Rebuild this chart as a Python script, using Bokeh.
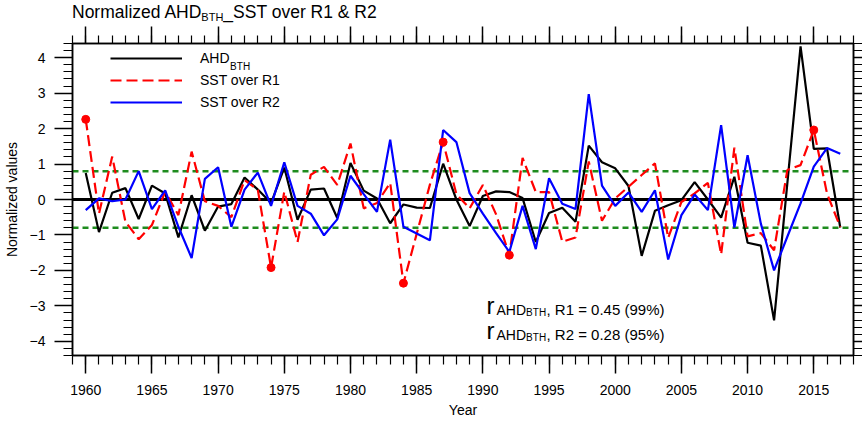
from bokeh.plotting import figure
from bokeh.layouts import column
from bokeh.models import (Range1d, LinearAxis, SingleIntervalTicker, Span, Label,
                          Legend, LegendItem, Div, CustomJSTickFormatter)
from bokeh.embed import file_html
from bokeh.resources import INLINE

# ---------------- data ----------------
years = list(range(1960, 2018))
ahd_bth = [0.75, -0.92, 0.19, 0.32, -0.55, 0.39, 0.17, -1.07, 0.12, -0.88,
           -0.20, -0.13, 0.62, 0.28, -0.10, 0.90, -0.57, 0.28, 0.31, -0.52,
           1.03, 0.25, 0.03, -0.67, -0.14, -0.23, -0.24, 1.01, 0.00, -0.75,
           0.10, 0.23, 0.21, 0.04, -1.20, -0.38, -0.23, -0.63, 1.52, 1.05,
           0.88, 0.38, -1.59, -0.32, -0.16, -0.02, 0.49, 0.00, -0.51, 0.64,
           -1.22, -1.30, -3.41, 0.45, 4.32, 1.43, 1.44, -0.79]
sst_r1 = [2.26, -0.40, 1.21, -0.63, -1.12, -0.72, 0.22, -0.44, 1.35, -0.05,
          -0.18, -0.50, 0.55, 0.27, -1.92, 0.22, -1.20, 0.70, 0.92, 0.41,
          1.58, -0.25, -0.10, 0.47, -2.36, -0.97, 0.42, 1.62, 0.15, -0.25,
          0.41, -0.42, -1.57, 1.17, 0.21, 0.21, -1.19, -1.07, 1.07, -0.60,
          0.03, 0.36, 0.69, 1.02, -1.08, -0.07, 0.17, 0.47, -1.55, 1.46,
          -1.04, -0.95, -1.43, 0.83, 0.97, 1.96, 0.17, -0.78]
sst_r2 = [-0.30, 0.03, -0.05, 0.00, 0.80, -0.27, 0.26, -0.77, -1.65, 0.58,
          0.91, -0.77, 0.28, 0.76, -0.18, 1.05, -0.18, -0.40, -1.01, -0.56,
          0.67, 0.15, -0.35, 1.69, -0.77, -0.96, -1.15, 1.96, 1.62, 0.18,
          -0.40, -0.95, -1.48, -0.18, -1.40, 0.60, -0.12, -0.27, 2.97, 0.39,
          -0.18, 0.20, -0.35, 0.26, -1.69, -0.44, 0.14, -0.30, 2.10, -0.79,
          1.25, -0.68, -2.00, -1.05, -0.11, 0.93, 1.45, 1.29]
marked_years = [1960, 1974, 1984, 1987, 1992, 2015]
marked_values = [sst_r1[years.index(y)] for y in marked_years]
threshold = 0.8
x_tick_interval = 5
y_tick_interval = 1

FONT = "Liberation Sans"
TITLE_H = 24

# frame (page px): left 72, right 853, top 43, bottom 355
p = figure(width=862, height=423 - TITLE_H, output_backend="svg",
           toolbar_location=None,
           x_range=Range1d(1959, 2018), y_range=Range1d(-4.4, 4.4),
           x_axis_type=None, y_axis_type=None,
           min_border_left=72, min_border_right=9, min_border_top=43 - TITLE_H,
           min_border_bottom=68, margin=0)
p.title.visible = False
p.outline_line_color = "black"
p.outline_line_width = 1.5
p.background_fill_color = "white"
p.border_fill_color = "white"

blank = CustomJSTickFormatter(code="return '';")


def make_axis(kind, labels, tick_out, minor_out):
    if kind == "x":
        ticker = SingleIntervalTicker(interval=x_tick_interval, num_minor_ticks=5)
    else:
        ticker = SingleIntervalTicker(interval=y_tick_interval, num_minor_ticks=5)
    ax = LinearAxis(ticker=ticker)
    ax.major_tick_in = 0
    ax.minor_tick_in = 0
    ax.major_tick_out = tick_out
    ax.minor_tick_out = minor_out
    ax.axis_line_color = "black"
    ax.axis_line_width = 1.5
    ax.major_tick_line_color = "black"
    ax.minor_tick_line_color = "black"
    ax.major_tick_line_width = 1.5
    ax.minor_tick_line_width = 1.2
    ax.major_label_text_font = FONT
    ax.major_label_text_color = "black"
    ax.major_label_text_font_size = "14px"
    ax.axis_label_text_color = "black"
    if not labels:
        ax.formatter = blank
        ax.major_label_standoff = 0
    return ax


xb = make_axis("x", True, 18, 9)
xb.major_label_standoff = 11
xb.axis_label = "Year"
xb.axis_label_text_font = FONT
xb.axis_label_text_font_size = "14px"
xb.axis_label_text_font_style = "normal"
xb.axis_label_standoff = 4
p.add_layout(xb, "below")

xt = make_axis("x", False, 17, 8)
p.add_layout(xt, "above")

yl = make_axis("y", True, 18, 9)
yl.major_label_standoff = 9
yl.axis_label = "Normalized values"
yl.axis_label_text_font = FONT
yl.axis_label_text_font_size = "14px"
yl.axis_label_text_font_style = "normal"
yl.axis_label_standoff = 7
p.add_layout(yl, "left")

yr = make_axis("y", False, 9, 9)
p.add_layout(yr, "right")

# reference lines
p.add_layout(Span(location=0, dimension="width", line_color="black",
                  line_width=3, level="underlay"))
for t in (threshold, -threshold):
    p.add_layout(Span(location=t, dimension="width", line_color="#1e8c1e",
                      line_width=2.5, line_dash="6 4", level="underlay"))

r_ahd = p.line(years, ahd_bth, line_color="black", line_width=2.2)
r_r1 = p.line(years, sst_r1, line_color="red", line_width=2.2, line_dash="11 5")
r_r2 = p.line(years, sst_r2, line_color="blue", line_width=2.2)
p.scatter(marked_years, marked_values, size=8, color="red")

legend = Legend(items=[LegendItem(label="AHD", renderers=[r_ahd]),
                       LegendItem(label="SST over R1", renderers=[r_r1]),
                       LegendItem(label="SST over R2", renderers=[r_r2])],
                location=(34, 239), glyph_width=72, glyph_height=20,
                label_height=20, spacing=2, padding=4, label_standoff=18,
                border_line_alpha=0, background_fill_alpha=0,
                label_text_font=FONT, label_text_font_size="14px",
                label_text_color="black")
p.add_layout(legend)


def lab(text, px, py, size):
    # px, py: page pixel position of the text baseline start
    p.add_layout(Label(x=px - 72, y=355 - py, x_units="screen", y_units="screen",
                       text=text, text_font=FONT, text_font_size=size,
                       text_baseline="alphabetic", text_align="left",
                       text_color="black"))


# legend subscript
lab("BTH", 229.6, 66, "10px")

# correlation annotations
for dy, txt in ((0, ", R1 = 0.45 (99%)"), (25, ", R2 = 0.28 (95%)")):
    lab("r", 486, 305 + dy, "24px")
    lab("AHD", 496, 309 + dy, "14px")
    lab("BTH", 525.6, 312 + dy, "10px")
    lab(txt, 546, 309 + dy, "15px")

title_html = (
    "<div style=\"padding:2px 0 0 72px; margin:0; white-space:nowrap; "
    "font-family:'Liberation Sans'; font-size:17.5px; line-height:20px; color:black;\">"
    "Normalized AHD<span style=\"font-size:11px; position:relative; top:3px;\">BTH</span>"
    "_SST over R1 &amp; R2</div>"
)
title = Div(text=title_html, width=862, height=TITLE_H, margin=0)

layout = column(title, p, spacing=0, margin=0)
open("out.html", "w").write(file_html(layout, INLINE))
